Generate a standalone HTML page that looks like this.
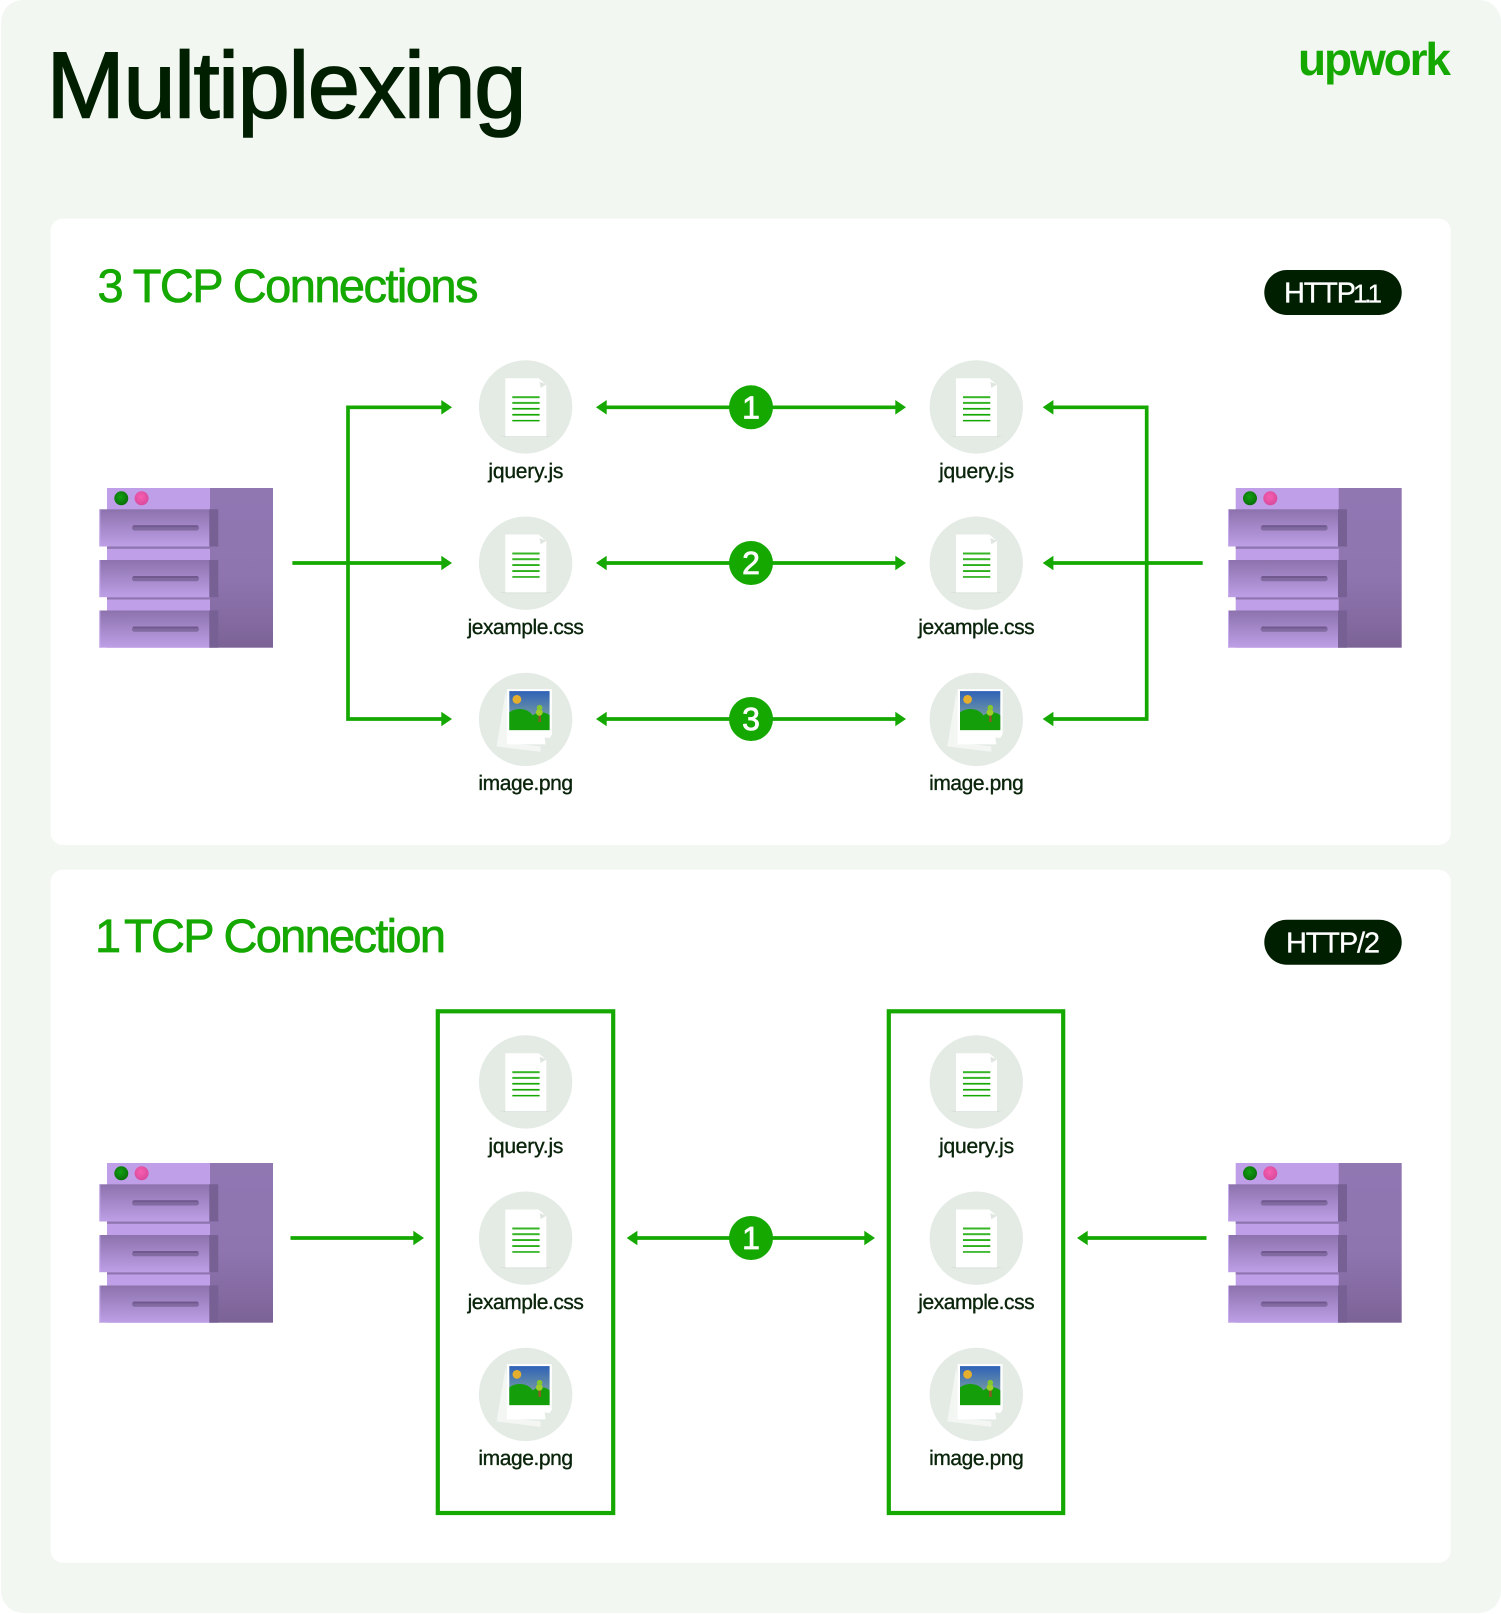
<!DOCTYPE html>
<html><head><meta charset="utf-8"><title>Multiplexing</title>
<style>html,body{margin:0;padding:0;background:#fff}svg{display:block}text{font-family:"Liberation Sans",sans-serif;text-rendering:geometricPrecision}</style></head>
<body>
<svg xmlns="http://www.w3.org/2000/svg" width="1501" height="1614" viewBox="0 0 1501 1614">
<defs>
<linearGradient id="dr" x1="0" y1="0" x2="0" y2="1"><stop offset="0" stop-color="#8c72ad"/><stop offset="1" stop-color="#bd9fe6"/></linearGradient>
<linearGradient id="col" x1="0" y1="0" x2="0" y2="1"><stop offset="0" stop-color="#9077b2"/><stop offset=".55" stop-color="#8f75b0"/><stop offset="1" stop-color="#7c6396"/></linearGradient>
<linearGradient id="sky" x1="0" y1="0" x2="0" y2="1"><stop offset="0" stop-color="#2f62b8"/><stop offset="1" stop-color="#97b79a"/></linearGradient>
<radialGradient id="gd" cx=".45" cy=".4" r=".6"><stop offset="0" stop-color="#12a012"/><stop offset="1" stop-color="#0a6f0a"/></radialGradient>
<radialGradient id="pd" cx=".45" cy=".4" r=".6"><stop offset="0" stop-color="#f75eb0"/><stop offset="1" stop-color="#d94a9c"/></radialGradient>
<g id="drawer">
<rect x="0" y="0" width="111" height="37.2" fill="url(#dr)"/>
<rect x="0" y="0" width="1" height="37.2" fill="#c9adee"/>
<rect x="110" y="0" width="9" height="37.2" fill="#776094"/>
<rect x="32.7" y="16" width="67" height="5.2" rx="2.6" fill="#806aa0"/>
<rect x="33.5" y="16" width="65.4" height="2" rx="1" fill="#71598f"/>
</g>
<g id="server">
<rect x="7.7" y="0" width="103.3" height="159.7" fill="#c09fe9"/>
<rect x="110.7" y="0" width="63" height="159.7" fill="url(#col)"/>
<circle cx="22" cy="10.3" r="7" fill="url(#gd)"/>
<circle cx="42.3" cy="10.3" r="7" fill="url(#pd)"/>
<rect x="7.7" y="58.5" width="103" height="2.3" fill="#8f75b0"/>
<rect x="7.7" y="109.2" width="103" height="2.3" fill="#8f75b0"/>
<use href="#drawer" x="0" y="21.3"/>
<use href="#drawer" x="0" y="72"/>
<use href="#drawer" x="0" y="122.5"/>
</g>
<g id="doc">
<circle cx="0" cy="0" r="46.7" fill="#e4ebe5"/>
<path d="M-27 29h54l-6 1h-42z" fill="#d5dcd5"/>
<path d="M-20.3 -28.7H13L20.7 -22V29.3H-20.3Z" fill="#fff"/>
<path d="M14 -25L20.7 -22.5L15 -19Z" fill="#dfe5df"/>
<g fill="#14a800"><rect x="-13.3" y="-10.7" width="27.3" height="2" opacity=".85"/><rect x="-13.3" y="-5" width="27.3" height="2" opacity=".85"/><rect x="-13.3" y="1" width="27.3" height="1.7"/><rect x="-13.3" y="7" width="27.3" height="1.7"/><rect x="-13.3" y="13" width="27.3" height="1.5"/></g>
</g>
<g id="pic">
<circle cx="0" cy="0" r="46.7" fill="#e4ebe5"/>
<path d="M-20 -27L-29 27L15 32.5V27L-13 24Z" fill="#f3f6f3"/>
<path d="M-18.7 -30.3H26.3V15L20 25H-18.7Z" fill="#fff"/>
<path d="M20 25L26.3 19L19 18Z" fill="#e4ebe5"/>
<rect x="-16.3" y="-28.3" width="40.3" height="39" fill="url(#sky)"/>
<circle cx="-8.7" cy="-20" r="4.4" fill="#e5ae2c"/>
<path d="M-16.3 -7C-10 -12 2 -12 7 -4C12 -8 20 -8 24 -4V10.7H-16.3Z" fill="#149f0a"/>
<rect x="12.8" y="-5" width="2.6" height="7.5" fill="#8c5a25"/>
<circle cx="13.7" cy="-7" r="3.4" fill="#9fce28"/>
<circle cx="14" cy="-11.7" r="2.8" fill="#86c92c"/>
</g>
<path id="ah-l" d="M0 0L10.7 -7.3V7.3Z" fill="#14a800"/>
<path id="ah-r" d="M0 0L-10.7 -7.3V7.3Z" fill="#14a800"/>
</defs>

<rect x="1" y="0" width="1500" height="1613" rx="22" fill="#f2f7f2"/>
<rect x="50.7" y="218.7" width="1400" height="626.3" rx="12" fill="#fff"/>
<rect x="50.7" y="869.7" width="1400" height="693" rx="12" fill="#fff"/>

<text x="46.5" y="117.5" font-size="94" fill="#001e00" stroke="#001e00" stroke-width="1.6" textLength="480" lengthAdjust="spacing">Multiplexing</text>
<text x="1298" y="75" font-size="46" font-weight="700" fill="#14a800" textLength="153" lengthAdjust="spacing">upwork</text>

<text x="97.5" y="302.2" font-size="47" fill="#14a800" stroke="#14a800" stroke-width=".7" textLength="381" lengthAdjust="spacing">3 TCP Connections</text>
<rect x="1264.3" y="270" width="137.4" height="45" rx="22.5" fill="#001e00"/>
<text x="1284" y="302.7" font-size="29" fill="#fff" stroke="#fff" stroke-width=".3" textLength="72" lengthAdjust="spacing">HTTP</text>
<text x="1353 1364.2 1367.6" y="302.7" font-size="26" fill="#fff" stroke="#fff" stroke-width=".3">1.1</text>

<text x="95" y="952.2" font-size="47" fill="#14a800" stroke="#14a800" stroke-width=".7">1</text>
<text x="124" y="952.2" font-size="47" fill="#14a800" stroke="#14a800" stroke-width=".7" textLength="322" lengthAdjust="spacing">TCP Connection</text>
<rect x="1264.3" y="919.7" width="137.4" height="45" rx="22.5" fill="#001e00"/>
<text x="1286" y="952.4" font-size="29" fill="#fff" stroke="#fff" stroke-width=".3" textLength="94" lengthAdjust="spacing">HTTP/2</text>

<use href="#server" x="99.3" y="488"/>
<use href="#server" x="1228" y="488"/>
<use href="#server" x="99.3" y="1163"/>
<use href="#server" x="1228" y="1163"/>

<g id="icons">
<use href="#doc" x="525.6" y="406.9"/><use href="#doc" x="976.3" y="406.9"/>
<use href="#doc" x="525.6" y="563.2"/><use href="#doc" x="976.3" y="563.2"/>
<use href="#pic" x="525.6" y="719.4"/><use href="#pic" x="976.3" y="719.4"/>
<use href="#doc" x="525.6" y="1081.9"/><use href="#doc" x="976.3" y="1081.9"/>
<use href="#doc" x="525.6" y="1238.2"/><use href="#doc" x="976.3" y="1238.2"/>
<use href="#pic" x="525.6" y="1394.4"/><use href="#pic" x="976.3" y="1394.4"/>
</g>

<g font-size="21" fill="#0a240b" stroke="#0a240b" stroke-width=".35">
<text x="488.4" y="478.2" textLength="75" lengthAdjust="spacing">jquery.js</text>
<text x="939.1" y="478.2" textLength="75" lengthAdjust="spacing">jquery.js</text>
<text x="467.6" y="634.2" textLength="116.3" lengthAdjust="spacing">jexample.css</text>
<text x="918.3" y="634.2" textLength="116.3" lengthAdjust="spacing">jexample.css</text>
<text x="478.4" y="790.2" textLength="94.7" lengthAdjust="spacing">image.png</text>
<text x="929.1" y="790.2" textLength="94.7" lengthAdjust="spacing">image.png</text>
<text x="488.4" y="1153.2" textLength="75" lengthAdjust="spacing">jquery.js</text>
<text x="939.1" y="1153.2" textLength="75" lengthAdjust="spacing">jquery.js</text>
<text x="467.6" y="1309.2" textLength="116.3" lengthAdjust="spacing">jexample.css</text>
<text x="918.3" y="1309.2" textLength="116.3" lengthAdjust="spacing">jexample.css</text>
<text x="478.4" y="1465.2" textLength="94.7" lengthAdjust="spacing">image.png</text>
<text x="929.1" y="1465.2" textLength="94.7" lengthAdjust="spacing">image.png</text>
</g>

<g fill="none" stroke="#14a800" stroke-width="3.7">
<path d="M444 407.3H348V719H444"/>
<path d="M292.4 563H444"/>
<path d="M1050 407.3H1146.7V719H1050"/>
<path d="M1202.7 563H1050"/>
<path d="M603 407.3H900M603 563H900M603 719H900"/>
<path d="M633 1238H869"/>
<path d="M290.5 1238H418"/>
<path d="M1206.5 1238H1083"/>
<rect x="437.8" y="1011.3" width="175.4" height="501.7" stroke-width="4.2"/>
<rect x="888.8" y="1011.3" width="174.4" height="501.7" stroke-width="4.2"/>
</g>

<use href="#ah-r" x="452" y="407.3"/><use href="#ah-r" x="452" y="563"/><use href="#ah-r" x="452" y="719"/>
<use href="#ah-l" x="1042.7" y="407.3"/><use href="#ah-l" x="1042.7" y="563"/><use href="#ah-l" x="1042.7" y="719"/>
<use href="#ah-l" x="596" y="407.3"/><use href="#ah-l" x="596" y="563"/><use href="#ah-l" x="596" y="719"/>
<use href="#ah-r" x="906" y="407.3"/><use href="#ah-r" x="906" y="563"/><use href="#ah-r" x="906" y="719"/>
<use href="#ah-l" x="626.7" y="1238"/><use href="#ah-r" x="875" y="1238"/>
<use href="#ah-r" x="424" y="1238"/><use href="#ah-l" x="1077" y="1238"/>

<g fill="#14a800"><circle cx="751" cy="407.3" r="22"/><circle cx="751" cy="563" r="22"/><circle cx="751" cy="719" r="22"/><circle cx="751" cy="1238" r="22"/></g>
<g font-size="32" fill="#fff" stroke="#fff" stroke-width=".8" text-anchor="middle">
<text x="751" y="418.3">1</text>
<text x="751" y="574">2</text>
<text x="751" y="730">3</text>
<text x="751" y="1249">1</text>
</g>
</svg>
</body></html>
